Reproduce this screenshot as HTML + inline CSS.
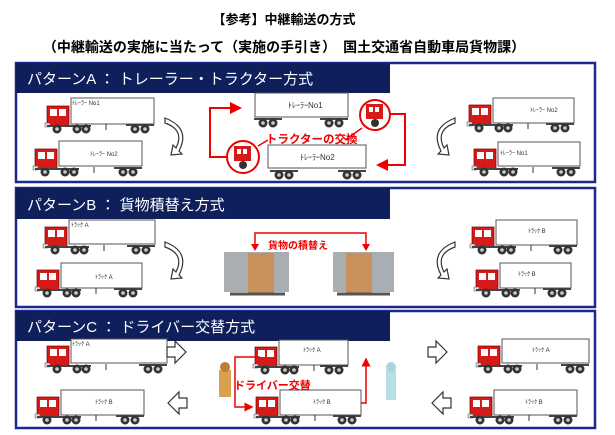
<!DOCTYPE html>
<html><head><meta charset="utf-8"><style>
body{margin:0;background:#fff;width:615px;height:435px;overflow:hidden}
svg{display:block;font-family:"Liberation Sans","Noto Sans CJK JP",sans-serif}
</style></head><body>
<svg width="615" height="435" viewBox="0 0 615 435">
<defs>
<g id="cab">
<rect x="-24" y="8" width="22" height="20" fill="#d61a1a" stroke="#700" stroke-width="0.7"/>
<rect x="-21" y="11" width="7" height="7" fill="#fff"/><rect x="-12" y="11" width="7" height="7" fill="#fff"/>
<rect x="-26" y="25" width="5" height="4" fill="#ddd" stroke="#555" stroke-width=".5"/>
<line x1="-24" y1="28" x2="20" y2="28" stroke="#444" stroke-width="2"/>
<circle cx="-14" cy="31" r="4.5" fill="#333"/><circle cx="-14" cy="31" r="1.8" fill="#ccc"/>
<circle cx="6" cy="31" r="4.5" fill="#333"/><circle cx="6" cy="31" r="1.8" fill="#ccc"/>
<circle cx="15" cy="31" r="4.5" fill="#333"/><circle cx="15" cy="31" r="1.8" fill="#ccc"/>
<line x1="35" y1="26" x2="35" y2="32" stroke="#333"/>
</g>
<g id="rear">
<line x1="-28" y1="27" x2="0" y2="27" stroke="#444" stroke-width="2"/>
<circle cx="-19" cy="31" r="4.5" fill="#333"/><circle cx="-19" cy="31" r="1.8" fill="#ccc"/>
<circle cx="-9" cy="31" r="4.5" fill="#333"/><circle cx="-9" cy="31" r="1.8" fill="#ccc"/>
</g>
<marker id="ar" markerWidth="6" markerHeight="6" refX="5" refY="3" orient="auto" markerUnits="strokeWidth"><path d="M0,0L6,3L0,6z" fill="#e00"/></marker>
</defs>
<text x="284" y="24" text-anchor="middle" font-size="13" font-weight="bold">【参考】中継輸送の方式</text>
<text x="284" y="52" text-anchor="middle" font-size="14" font-weight="bold">（中継輸送の実施に当たって（実施の手引き）　国土交通省自動車局貨物課）</text>

<g stroke="#1a2a8a" stroke-width="2.5" fill="#fff">
<rect x="16" y="63" width="579" height="119"/>
<rect x="16" y="188" width="579" height="119"/>
<rect x="16" y="311" width="579" height="117"/>
</g>
<g fill="#0e1f5c">
<rect x="16" y="63" width="374" height="30"/>
<rect x="16" y="188" width="374" height="31"/>
<rect x="16" y="311" width="374" height="30"/>
</g>
<g fill="#fff" font-size="15">
<text x="27" y="84">パターンA ： トレーラー・トラクター方式</text>
<text x="27" y="210">パターンB ： 貨物積替え方式</text>
<text x="27" y="332">パターンC ： ドライバー交替方式</text>
</g>

<g fill="#fff" stroke="#555" stroke-width="1">
<!-- A -->
<rect x="71" y="98" width="83" height="26"/><rect x="59" y="141" width="83" height="25"/>
<rect x="493" y="98" width="81" height="25"/><rect x="498" y="142" width="82" height="24"/>
<rect x="255" y="93" width="93" height="24"/><rect x="268" y="145" width="98" height="23"/>
<!-- B -->
<rect x="69" y="220" width="86" height="24"/><rect x="61" y="263" width="81" height="25"/>
<rect x="496" y="220" width="81" height="25"/><rect x="500" y="263" width="71" height="25"/>
<!-- C -->
<rect x="71" y="339" width="96" height="24"/><rect x="61" y="390" width="83" height="25"/>
<rect x="279" y="340" width="69" height="25"/><rect x="280" y="390" width="81" height="25"/>
<rect x="502" y="339" width="87" height="24"/><rect x="494" y="390" width="83" height="25"/>
</g>
<use href="#cab" x="71" y="98"/><use href="#rear" x="154" y="98"/>
<use href="#cab" x="59" y="141"/><use href="#rear" x="142" y="141"/>
<use href="#cab" x="493" y="97"/><use href="#rear" x="574" y="97"/>
<use href="#cab" x="498" y="141"/><use href="#rear" x="580" y="141"/>
<use href="#rear" x="282" y="92"/><use href="#rear" x="348" y="92"/>
<use href="#rear" x="298" y="144"/><use href="#rear" x="366" y="144"/>
<use href="#cab" x="69" y="219"/><use href="#rear" x="155" y="219"/>
<use href="#cab" x="61" y="262"/><use href="#rear" x="142" y="262"/>
<use href="#cab" x="496" y="219"/><use href="#rear" x="577" y="219"/>
<use href="#cab" x="500" y="262"/><use href="#rear" x="571" y="262"/>
<use href="#cab" x="71" y="338"/><use href="#rear" x="167" y="338"/>
<use href="#cab" x="61" y="389"/><use href="#rear" x="144" y="389"/>
<use href="#cab" x="279" y="339"/><use href="#rear" x="348" y="339"/>
<use href="#cab" x="280" y="389"/><use href="#rear" x="361" y="389"/>
<use href="#cab" x="502" y="338"/><use href="#rear" x="589" y="338"/>
<use href="#cab" x="494" y="389"/><use href="#rear" x="577" y="389"/>

<g font-size="6" fill="#333">
<text x="72" y="105">ﾄﾚｰﾗｰ No1</text><text x="90" y="156">ﾄﾚｰﾗｰ No2</text>
<text x="288" y="108" font-size="8">ﾄﾚｰﾗｰNo1</text><text x="300" y="160" font-size="8">ﾄﾚｰﾗｰNo2</text>
<text x="530" y="112">ﾄﾚｰﾗｰ No2</text><text x="500" y="155">ﾄﾚｰﾗｰ No1</text>
<text x="71" y="227">ﾄﾗｯｸ A</text><text x="95" y="279">ﾄﾗｯｸ A</text><text x="528" y="233">ﾄﾗｯｸ B</text><text x="518" y="276">ﾄﾗｯｸ B</text>
<text x="72" y="346">ﾄﾗｯｸ A</text><text x="95" y="404">ﾄﾗｯｸ B</text><text x="303" y="352">ﾄﾗｯｸ A</text><text x="313" y="404">ﾄﾗｯｸ B</text><text x="532" y="352">ﾄﾗｯｸ A</text><text x="525" y="404">ﾄﾗｯｸ B</text>
</g>

<!-- tractor circles -->
<circle cx="375" cy="115" r="15" fill="#fff" stroke="#e00" stroke-width="2"/>
<rect x="366" y="104" width="17" height="15" fill="#d61a1a"/><rect x="369" y="107" width="4" height="5" fill="#fff"/><rect x="375" y="107" width="4" height="5" fill="#fff"/><circle cx="375" cy="123" r="4" fill="#333"/>
<circle cx="243" cy="157" r="16" fill="#fff" stroke="#e00" stroke-width="2"/>
<rect x="234" y="146" width="17" height="15" fill="#d61a1a"/><rect x="237" y="149" width="4" height="5" fill="#fff"/><rect x="243" y="149" width="4" height="5" fill="#fff"/><circle cx="243" cy="165" r="4" fill="#333"/>
<polyline points="227,157 210,157 210,108 240,108" fill="none" stroke="#e00" stroke-width="2" marker-end="url(#ar)"/>
<polyline points="390,114 405,114 405,165 378,165" fill="none" stroke="#e00" stroke-width="2" marker-end="url(#ar)"/>
<line x1="345" y1="140" x2="362" y2="128" stroke="#e00" stroke-width="1.5"/>
<line x1="258" y1="146" x2="268" y2="140" stroke="#e00" stroke-width="1.5"/>
<text x="266" y="143" font-size="11.5" fill="#e00" font-weight="bold">トラクターの交換</text>

<g fill="#fff" stroke="#333" stroke-width="1.2">
<path d="M165,118 q26,10 14,33 l3,3 -11,1 2,-10 3,3 q9,-18 -11,-25z"/>
<path d="M455,118 q-26,10 -14,33 l-3,3 11,1 -2,-10 -3,3 q-9,-18 11,-25z"/>
<path d="M165,242 q26,10 14,33 l3,3 -11,1 2,-10 3,3 q9,-18 -11,-25z"/>
<path d="M455,242 q-26,10 -14,33 l-3,3 11,1 -2,-10 -3,3 q-9,-18 11,-25z"/>
</g>

<!-- B center -->
<polyline points="255,248 255,233 366,233 366,248" fill="none" stroke="#e00" stroke-width="1.5"/>
<path d="M251,244L255,251L259,244z M362,244L366,251L370,244z" fill="#e00"/>
<text x="268" y="249" font-size="10" fill="#e00" font-weight="bold">貨物の積替え</text>
<rect x="224" y="252" width="65" height="40" fill="#a9aeb3"/><rect x="248" y="253" width="26" height="40" fill="#c8915a"/>
<line x1="230" y1="294" x2="285" y2="294" stroke="#555" stroke-width="3"/>
<rect x="333" y="252" width="61" height="40" fill="#a9aeb3"/><rect x="346" y="253" width="26" height="40" fill="#c8915a"/>
<line x1="337" y1="294" x2="390" y2="294" stroke="#555" stroke-width="3"/>

<!-- C arrows -->
<g fill="#fff" stroke="#333" stroke-width="1.2">
<path d="M167,347h8v-6l11,11-11,11v-6h-8z"/>
<path d="M428,347h8v-6l11,11-11,11v-6h-8z"/>
<path d="M187,398h-8v-6l-11,11 11,11v-6h8z"/>
<path d="M451,398h-8v-6l-11,11 11,11v-6h8z"/>
</g>
<polyline points="260,357 235,357 235,407 252,407" fill="none" stroke="#e00" stroke-width="1.5" marker-end="url(#ar)"/>
<polyline points="361,403 366,403 366,359" fill="none" stroke="#e00" stroke-width="1.5" marker-end="url(#ar)"/>
<text x="234" y="389" font-size="11" fill="#e00" font-weight="bold">ドライバー交替</text>
<rect x="219" y="370" width="12" height="27" fill="#d9a050"/><circle cx="225" cy="367" r="5" fill="#c07a3a"/>
<rect x="386" y="370" width="10" height="30" fill="#b8dde4"/><circle cx="391" cy="367" r="5" fill="#a8d4dc"/>
</svg>
</body></html>
